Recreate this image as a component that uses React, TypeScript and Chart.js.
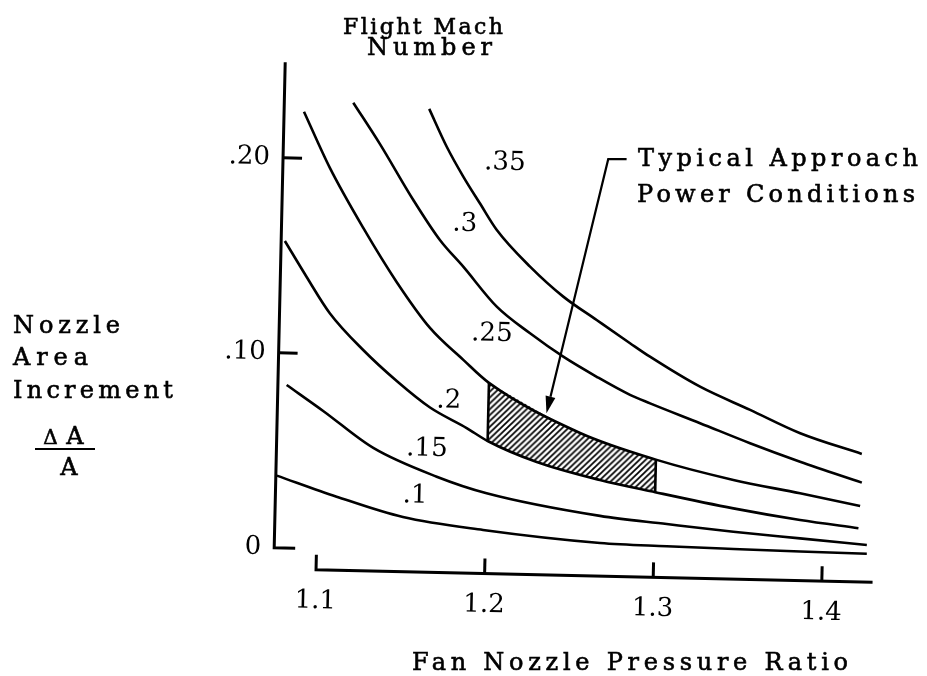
import React, { useEffect, useRef } from "react";
import { Chart, registerables } from "chart.js";

Chart.register(...registerables);

// ---- axes ----
const X_TICKS = [1.1, 1.2, 1.3, 1.4];
const X_TICK_LABELS = ["1.1", "1.2", "1.3", "1.4"];
const Y_TICKS = [0, 0.1, 0.2];
const Y_TICK_LABELS = ["0", ".10", ".20"];
const X_MIN = 1.0749;
const X_MAX = 1.4301;
const Y_MIN = -0.0108;
const Y_MAX = 0.25;
const Y_AXIS_TOP = 0.249;

// ---- curves: fan nozzle pressure ratio (PR) vs nozzle area increment (DA), per flight Mach number ----
const PR_010 = [1.0755, 1.1112, 1.1508, 1.1985, 1.268, 1.3076, 1.3472, 1.3868, 1.4263];
const DA_010 = [0.037, 0.0269, 0.0172, 0.0115, 0.0062, 0.0053, 0.0047, 0.0042, 0.0038];

const PR_015 = [1.0801, 1.1021, 1.1323, 1.1703, 1.2001, 1.2676, 1.3073, 1.3469, 1.3865, 1.4262];
const DA_015 = [0.0836, 0.0707, 0.0523, 0.0383, 0.0304, 0.0201, 0.0167, 0.0135, 0.0109, 0.0083];

const PR_020 = [1.0771, 1.0905, 1.1047, 1.125, 1.1453, 1.1654, 1.1874, 1.2, 1.2294, 1.2671, 1.3, 1.3466, 1.3863, 1.421];
const DA_020 = [0.1574, 0.1392, 0.1209, 0.1024, 0.0869, 0.0737, 0.0636, 0.0572, 0.047, 0.0385, 0.0329, 0.0255, 0.0203, 0.0168];

const PR_025 = [1.0867, 1.1028, 1.1234, 1.1439, 1.1643, 1.1845, 1.2, 1.2547, 1.3, 1.3462, 1.3859, 1.4217];
const DA_025 = [0.2239, 0.1954, 0.165, 0.1377, 0.1145, 0.0985, 0.087, 0.0624, 0.0496, 0.0401, 0.034, 0.0282];

const PR_030 = [1.1158, 1.1321, 1.1527, 1.169, 1.1832, 1.2036, 1.2237, 1.2437, 1.2638, 1.2838, 1.2958, 1.3257, 1.3556, 1.3855, 1.4224];
const DA_030 = [0.2291, 0.2083, 0.1799, 0.1597, 0.1463, 0.1262, 0.1129, 0.1013, 0.0914, 0.0825, 0.0784, 0.0688, 0.0591, 0.0502, 0.0402];

const PR_035 = [1.1609, 1.1718, 1.182, 1.1922, 1.2026, 1.2228, 1.2429, 1.263, 1.2831, 1.2951, 1.3252, 1.3552, 1.3852, 1.422];
const DA_035 = [0.2268, 0.2076, 0.1925, 0.179, 0.1655, 0.1471, 0.1321, 0.1205, 0.109, 0.1023, 0.0875, 0.0762, 0.0648, 0.0549];

// ---- typical approach power band (hatched between Mach .2 and .25) ----
const HATCH_FROM = 1.2;
const HATCH_TO = 1.3;

// ---- curve labels ----
const CURVE_LABELS = [".1", ".15", ".2", ".25", ".3", ".35"];
const CURVE_LABEL_PR = [1.1577, 1.1641, 1.1765, 1.2011, 1.1836, 1.2065];
const CURVE_LABEL_DA = [0.0282, 0.0524, 0.0773, 0.1121, 0.1682, 0.2];

// ---- leader arrow (end of horizontal tick, corner, tip) ----
const ARROW_PR = [1.2786, 1.2677, 1.2345];
const ARROW_DA = [0.2033, 0.2031, 0.0721];

// ---- titles ----
const TOP_TITLE = ["Flight Mach", "Number"];
const LEFT_TITLE = ["Nozzle", "Area", "Increment"];
const FRACTION = ["\u0394", "A", "A"];
const NOTE = ["Typical Approach", "Power Conditions"];
const X_TITLE = "Fan Nozzle Pressure Ratio";

const FONT_FAMILY = "'DejaVu Serif', 'Liberation Serif', serif";
const TITLE_SIZE = 24;
const ROT_DEG = 1.3;
const ROT_CX = 463.5;
const ROT_CY = 338;

function drawFit(ctx: CanvasRenderingContext2D, text: string, left: number, baseline: number, width: number, size: number) {
  ctx.font = `${size}px ${FONT_FAMILY}`;
  (ctx as any).letterSpacing = "0px";
  const w0 = ctx.measureText(text).width;
  const n = Array.from(text).length;
  const ls = n > 1 ? (width - w0) / (n - 1) : 0;
  (ctx as any).letterSpacing = `${ls}px`;
  ctx.textAlign = "left";
  ctx.textBaseline = "alphabetic";
  const x = n > 1 ? left : left + (width - w0) / 2;
  ctx.fillText(text, x, baseline);
  ctx.lineWidth = 0.6;
  ctx.strokeText(text, x, baseline);
  (ctx as any).letterSpacing = "0px";
}

function makeHatch(): CanvasPattern | string {
  const c = document.createElement("canvas");
  const p = 6;
  c.width = p;
  c.height = p;
  const g = c.getContext("2d");
  if (!g) return "rgba(0,0,0,0.4)";
  g.strokeStyle = "#000";
  g.lineWidth = 1.7;
  g.beginPath();
  g.moveTo(-1, p + 1);
  g.lineTo(p + 1, -1);
  g.moveTo(-1, 1);
  g.lineTo(1, -1);
  g.moveTo(p - 1, p + 1);
  g.lineTo(p + 1, p - 1);
  g.stroke();
  return g.createPattern(c, "repeat") || "rgba(0,0,0,0.4)";
}

const pts = (xs: number[], ys: number[]) => xs.map((x, i) => ({ x, y: ys[i] }));
const band = (xs: number[], ys: number[]) =>
  pts(xs, ys).filter((p) => p.x >= HATCH_FROM - 1e-9 && p.x <= HATCH_TO + 1e-9);

const framePlugin = {
  id: "frame",
  beforeDraw(chart: any) {
    const ctx: CanvasRenderingContext2D = chart.ctx;
    ctx.save();
    ctx.translate(ROT_CX, ROT_CY);
    ctx.rotate((ROT_DEG * Math.PI) / 180);
    ctx.translate(-ROT_CX, -ROT_CY);
  },
  afterDraw(chart: any) {
    const ctx: CanvasRenderingContext2D = chart.ctx;
    const sx = chart.scales.x;
    const sy = chart.scales.y;
    const a = chart.chartArea;
    ctx.save();
    ctx.strokeStyle = "#000";
    ctx.fillStyle = "#000";
    ctx.lineCap = "butt";
    ctx.lineJoin = "miter";
    // y axis
    ctx.lineWidth = 3;
    const y0 = sy.getPixelForValue(0);
    ctx.beginPath();
    ctx.moveTo(a.left, sy.getPixelForValue(Y_AXIS_TOP));
    ctx.lineTo(a.left, y0);
    ctx.lineTo(a.left + 21, y0);
    ctx.stroke();
    Y_TICKS.forEach((v) => {
      if (v === 0) return;
      const y = sy.getPixelForValue(v);
      ctx.beginPath();
      ctx.moveTo(a.left, y);
      ctx.lineTo(a.left + 19, y);
      ctx.stroke();
    });
    // x axis
    const xb = a.bottom;
    const x1 = sx.getPixelForValue(X_TICKS[0]);
    ctx.beginPath();
    ctx.moveTo(x1, xb - 15);
    ctx.lineTo(x1, xb);
    ctx.lineTo(a.right, xb);
    ctx.stroke();
    X_TICKS.slice(1).forEach((v) => {
      const x = sx.getPixelForValue(v);
      ctx.beginPath();
      ctx.moveTo(x, xb);
      ctx.lineTo(x, xb - 15);
      ctx.stroke();
    });
    // hatch edges
    const top = band(PR_025, DA_025);
    const bot = band(PR_020, DA_020);
    ctx.lineWidth = 2.6;
    [
      [top[0], bot[0]],
      [top[top.length - 1], bot[bot.length - 1]],
    ].forEach(([p, q]) => {
      ctx.beginPath();
      ctx.moveTo(sx.getPixelForValue(p.x), sy.getPixelForValue(p.y));
      ctx.lineTo(sx.getPixelForValue(q.x), sy.getPixelForValue(q.y));
      ctx.stroke();
    });
    // leader arrow
    const ax = ARROW_PR.map((v) => sx.getPixelForValue(v));
    const ay = ARROW_DA.map((v) => sy.getPixelForValue(v));
    const dx = ax[2] - ax[1];
    const dy = ay[2] - ay[1];
    const len = Math.hypot(dx, dy);
    const ux = dx / len;
    const uy = dy / len;
    const hl = 17;
    const hw = 5;
    const bx = ax[2] - ux * hl;
    const by = ay[2] - uy * hl;
    ctx.lineWidth = 2.2;
    ctx.beginPath();
    ctx.moveTo(ax[0], ay[0]);
    ctx.lineTo(ax[1], ay[1]);
    ctx.lineTo(bx, by);
    ctx.stroke();
    ctx.beginPath();
    ctx.moveTo(ax[2], ay[2]);
    ctx.lineTo(bx - uy * hw, by + ux * hw);
    ctx.lineTo(bx + uy * hw, by - ux * hw);
    ctx.closePath();
    ctx.fill();
    // curve labels
    ctx.font = `26px ${FONT_FAMILY}`;
    ctx.textAlign = "center";
    ctx.textBaseline = "middle";
    CURVE_LABELS.forEach((t, i) => {
      ctx.fillText(t, sx.getPixelForValue(CURVE_LABEL_PR[i]), sy.getPixelForValue(CURVE_LABEL_DA[i]));
    });
    ctx.restore();
    // end of rotated drawing
    ctx.restore();

    // typeset (level) titles
    ctx.save();
    ctx.fillStyle = "#000";
    ctx.strokeStyle = "#000";
    drawFit(ctx, TOP_TITLE[0], 343, 34, 160, 22);
    drawFit(ctx, TOP_TITLE[1], 367, 55, 125, TITLE_SIZE);
    drawFit(ctx, LEFT_TITLE[0], 13, 333, 107, TITLE_SIZE);
    drawFit(ctx, LEFT_TITLE[1], 13, 365, 75, TITLE_SIZE);
    drawFit(ctx, LEFT_TITLE[2], 13, 398, 160, TITLE_SIZE);
    drawFit(ctx, FRACTION[0], 43, 444, 15, 20);
    drawFit(ctx, FRACTION[1], 62, 444, 26, TITLE_SIZE);
    drawFit(ctx, FRACTION[2], 58, 475, 22, TITLE_SIZE);
    ctx.fillRect(35, 448, 60, 2);
    drawFit(ctx, NOTE[0], 638, 166, 280, TITLE_SIZE);
    drawFit(ctx, NOTE[1], 637, 202, 278, TITLE_SIZE);
    drawFit(ctx, X_TITLE, 412, 670, 436, TITLE_SIZE);
    ctx.restore();
  },
};

export default function App() {
  const ref = useRef<HTMLCanvasElement>(null);
  useEffect(() => {
    const canvas = ref.current;
    if (!canvas) return;
    const hatch = makeHatch();
    const curve = (xs: number[], ys: number[], label: string) => ({
      label,
      data: pts(xs, ys),
      borderColor: "#000",
      backgroundColor: "#000",
      borderWidth: 2.6,
      pointRadius: 0,
      fill: false,
      cubicInterpolationMode: "monotone" as const,
    });
    const chart = new Chart(canvas, {
      type: "line",
      data: {
        datasets: [
          curve(PR_010, DA_010, "M .1"),
          curve(PR_015, DA_015, "M .15"),
          curve(PR_020, DA_020, "M .2"),
          curve(PR_025, DA_025, "M .25"),
          curve(PR_030, DA_030, "M .3"),
          curve(PR_035, DA_035, "M .35"),
          {
            label: "band top",
            data: band(PR_025, DA_025),
            borderColor: "rgba(0,0,0,0)",
            borderWidth: 0,
            pointRadius: 0,
            backgroundColor: hatch as any,
            fill: "+1",
            cubicInterpolationMode: "monotone",
          },
          {
            label: "band bottom",
            data: band(PR_020, DA_020),
            borderColor: "rgba(0,0,0,0)",
            borderWidth: 0,
            pointRadius: 0,
            fill: false,
            cubicInterpolationMode: "monotone",
          },
        ],
      },
      options: {
        responsive: false,
        animation: false,
        devicePixelRatio: 1,
        layout: { padding: { left: 199, right: 49, top: 64.5, bottom: 43 } },
        plugins: {
          legend: { display: false },
          tooltip: { enabled: false },
          title: { display: false },
        },
        scales: {
          x: {
            type: "linear",
            min: X_MIN,
            max: X_MAX,
            afterFit: (s: any) => {
              s.height = 60;
            },
            afterBuildTicks: (s: any) => {
              s.ticks = X_TICKS.map((v) => ({ value: v }));
            },
            grid: { display: false, drawTicks: false },
            border: { display: false },
            ticks: {
              padding: 16,
              color: "#000",
              autoSkip: false,
              maxRotation: 0,
              font: { family: FONT_FAMILY, size: 26 },
              callback: (v: any) => {
                const i = X_TICKS.findIndex((t) => Math.abs(t - Number(v)) < 1e-6);
                return i >= 0 ? X_TICK_LABELS[i] : "";
              },
            },
          },
          y: {
            type: "linear",
            min: Y_MIN,
            max: Y_MAX,
            afterFit: (s: any) => {
              s.width = 80;
            },
            afterBuildTicks: (s: any) => {
              s.ticks = Y_TICKS.map((v) => ({ value: v }));
            },
            grid: { display: false, drawTicks: false },
            border: { display: false },
            ticks: {
              padding: 13,
              color: "#000",
              autoSkip: false,
              font: { family: FONT_FAMILY, size: 26 },
              callback: (v: any) => {
                const i = Y_TICKS.findIndex((t) => Math.abs(t - Number(v)) < 1e-6);
                return i >= 0 ? Y_TICK_LABELS[i] : "";
              },
            },
          },
        },
      },
      plugins: [framePlugin],
    });
    return () => chart.destroy();
  }, []);
  return (
    <div style={{ position: "fixed", left: 0, top: 0, width: 927, height: 676, background: "#fff" }}>
      <canvas ref={ref} width={927} height={676} style={{ display: "block", width: 927, height: 676 }} />
    </div>
  );
}
